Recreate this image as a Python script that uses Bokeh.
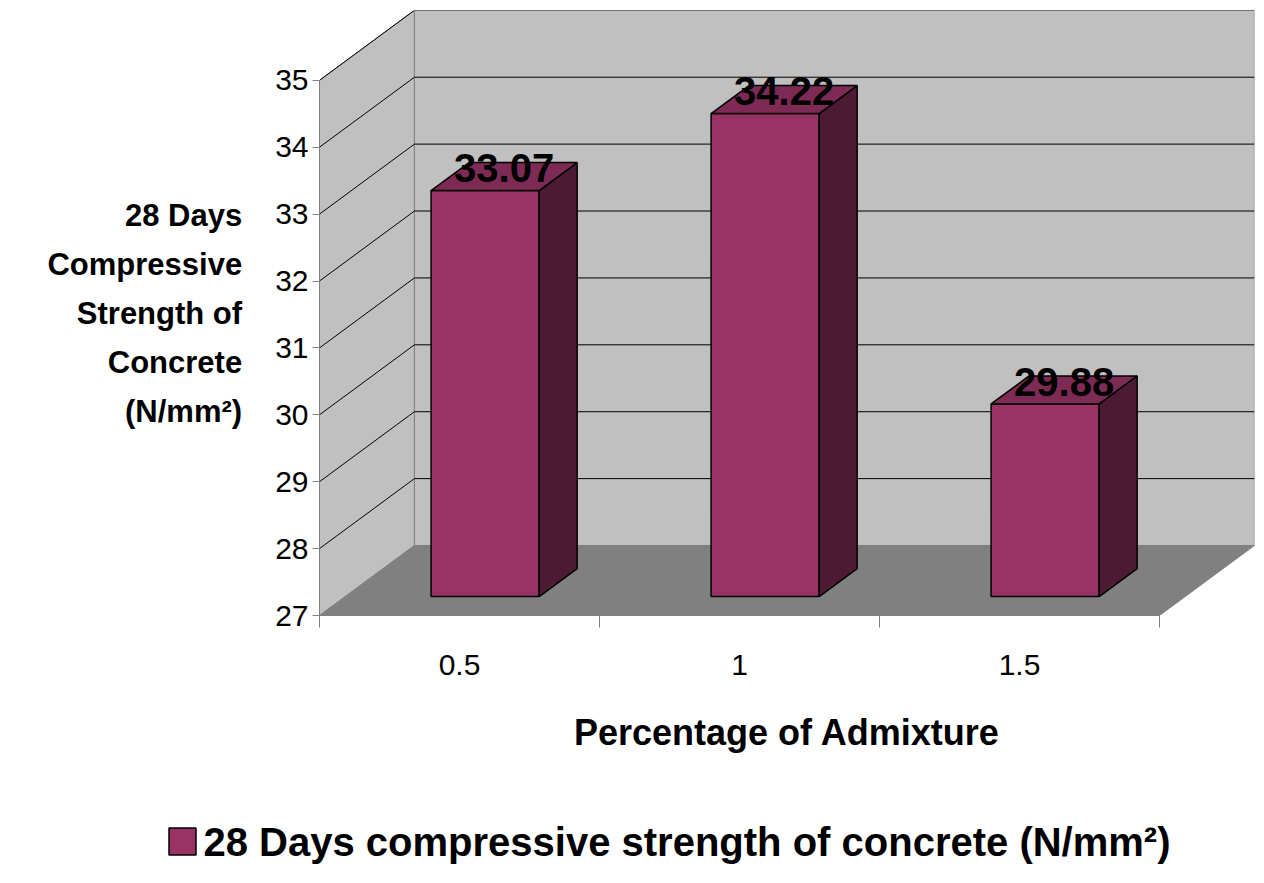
from bokeh.plotting import figure
from bokeh.models import Range1d, LinearAxis, FixedTicker, ColumnDataSource
from bokeh.layouts import column, row
from bokeh.core.properties import value
from bokeh.embed import file_html
from bokeh.resources import INLINE

categories = ["0.5", "1", "1.5"]
values = [33.07, 34.22, 29.88]
y_ticks = [27, 28, 29, 30, 31, 32, 33, 34, 35]
series_name = "28 Days compressive strength of concrete (N/mm²)"

FONT = "Liberation Sans"
BASE = 27
DX, DY = 0.339, 1.046          # depth of the 3-D box in data units
F = 0.27                       # bars sit this far back in the box
W = 0.386                      # bar width
BD = 0.4                       # bar depth fraction
PURPLE = "#993366"

p = figure(frame_width=935, frame_height=605, output_backend="svg",
           toolbar_location=None, x_range=Range1d(0, 935 / 280),
           y_range=Range1d(27, 27 + 605 / 66.9),
           min_border_left=319, min_border_top=10, min_border_right=2,
           min_border_bottom=140, x_axis_type=None, y_axis_type=None)
p.outline_line_color = None
p.xgrid.visible = False
p.ygrid.visible = False

n = len(categories)
top = y_ticks[-1]
# walls and floor
p.patch([0, 0, DX, DX], [BASE, top, top + DY, BASE + DY], fill_color="#c0c0c0", line_color="#808080")
p.patch([DX, DX, n + DX, n + DX], [BASE + DY, top + DY, top + DY, BASE + DY],
        fill_color="#c0c0c0", line_color="#808080")
p.patch([0, n, n + DX, DX], [BASE, BASE, BASE + DY, BASE + DY], fill_color="#808080", line_color="#808080")
# gridlines
p.multi_line([[0, DX, n + DX] for v in y_ticks[1:]],
             [[v, v + DY, v + DY] for v in y_ticks[1:]], line_color="black", line_width=1)

# bars
fx, fy = F * DX, F * DY
bx, by = BD * DX, BD * DY
centers = [i + 0.5 + fx for i in range(n)]
left = [c - W / 2 for c in centers]
right = [c + W / 2 for c in centers]
tops = [v + fy for v in values]
src = ColumnDataSource(dict(left=left, right=right, top=tops, bottom=[BASE + fy] * n))
p.quad(left="left", right="right", top="top", bottom="bottom", source=src,
       fill_color=PURPLE, line_color="black", line_width=1.5)
p.patches([[r, r + bx, r + bx, r] for r in right],
          [[BASE + fy, BASE + fy + by, t + by, t] for t in tops],
          fill_color="#4d1a33", line_color="black", line_width=1.5)
p.patches([[l, r, r + bx, l + bx] for l, r in zip(left, right)],
          [[t, t, t + by, t + by] for t in tops],
          fill_color="#7d2a55", line_color="black", line_width=1.5)
p.text(x=[c + bx / 2 for c in centers], y=[t + by * 0.8 for t in tops],
       text=[f"{v:.2f}" for v in values], text_align="center", text_baseline="middle",
       text_font=value(FONT), text_font_style="bold", text_font_size="40px", text_color="black")

# axes
yaxis = LinearAxis(ticker=FixedTicker(ticks=y_ticks), bounds=(27, 35))
yaxis.major_label_text_font = FONT
yaxis.major_label_text_font_size = "30px"
yaxis.major_label_text_color = "black"
yaxis.major_tick_out = 7
yaxis.major_tick_in = 0
yaxis.minor_tick_out = 0
yaxis.major_label_standoff = 4
yaxis.axis_label = "28 Days\nCompressive\nStrength of\nConcrete\n(N/mm²)"
yaxis.axis_label_orientation = "horizontal"
yaxis.axis_label_text_font = FONT
yaxis.axis_label_text_font_style = "bold"
yaxis.axis_label_text_font_size = "31px"
yaxis.axis_label_text_line_height = 1.4
yaxis.axis_label_text_color = "black"
yaxis.axis_label_standoff = 30
yaxis.axis_line_color = "#808080"
yaxis.major_tick_line_color = "#808080"
p.add_layout(yaxis, "left")

xlab = LinearAxis(ticker=FixedTicker(ticks=[i + 0.5 for i in range(n)],
                                     minor_ticks=list(range(n + 1))), bounds=(0, n))
xlab.major_label_overrides = {i + 0.5: c for i, c in enumerate(categories)}
xlab.major_label_text_font = FONT
xlab.major_label_text_font_size = "30px"
xlab.major_label_text_color = "black"
xlab.major_tick_out = 0
xlab.major_tick_in = 0
xlab.minor_tick_out = 12
xlab.minor_tick_in = 0
xlab.minor_tick_line_color = "#808080"
xlab.axis_line_color = "#808080"
xlab.major_label_standoff = 27
xlab.axis_label = "Percentage of Admixture"
xlab.axis_label_text_font = FONT
xlab.axis_label_text_font_style = "bold"
xlab.axis_label_text_font_size = "36px"
xlab.axis_label_text_color = "black"
xlab.axis_label_standoff = 34
p.add_layout(xlab, "below")

# legend strip under the chart
leg = figure(width=1256, height=112, output_backend="svg", toolbar_location=None,
             x_range=Range1d(0, 1256), y_range=Range1d(0, 112),
             min_border=0, x_axis_type=None, y_axis_type=None)
leg.outline_line_color = None
leg.xgrid.visible = False
leg.ygrid.visible = False
leg.scatter(x=[182], y=[26], marker="square", size=27, fill_color=PURPLE,
            line_color="black", line_width=1.5)
leg.text(x=[203], y=[26], text=[series_name], text_baseline="middle",
         text_font=value(FONT), text_font_style="bold", text_font_size="40px",
         text_color="black")

open("out.html", "w").write(file_html(column(row(p), row(leg), spacing=0), INLINE))
